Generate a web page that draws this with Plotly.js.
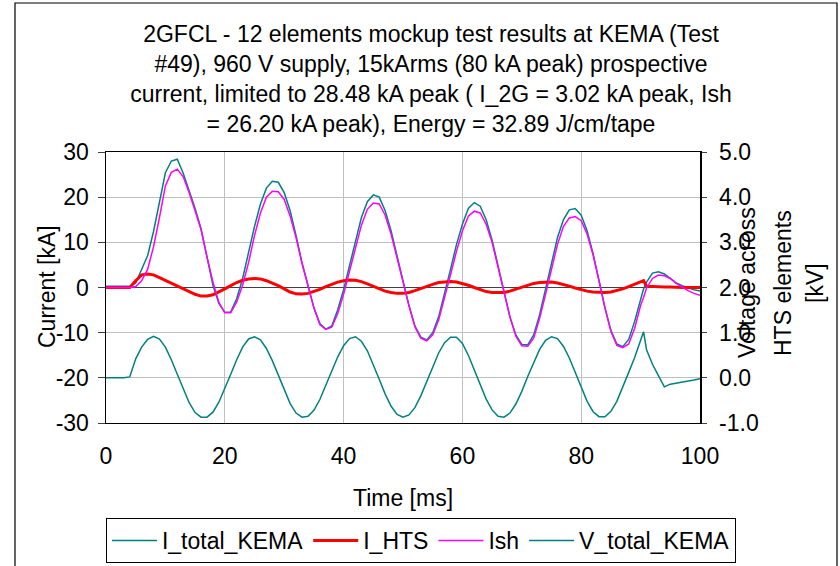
<!DOCTYPE html>
<html>
<head>
<meta charset="utf-8">
<script src="https://cdn.plot.ly/plotly-3.0.1.min.js"></script>
<style>
  html, body { margin: 0; padding: 0; background: #fff; }
  #chart { width: 840px; height: 566px; }
</style>
</head>
<body>
<div id="chart"></div>
<script>
// ---- data ----
var timeMs = [0,1,2,3,4,5,6,7,8,9,10,11,12,13,14,15,16,17,18,19,20,21,22,23,24,25,26,27,28,29,30,31,32,33,34,35,36,37,38,39,40,41,42,43,44,45,46,47,48,49,50,51,52,53,54,55,56,57,58,59,60,61,62,63,64,65,66,67,68,69,70,71,72,73,74,75,76,77,78,79,80,81,82,83,84,85,86,87,88,89,90,90.5,91,92,93,94,95,96,97,98,99,100];

var iTotalKEMA = [0.3,0.3,0.3,0.3,0.3, 1.0,4.0,7.0,12.4,19.2, 25.4,28.0,28.4,25.3,21.6, 17.5,13.0,6.5,0.5,-3.5,
  -5.5,-5.4,-2.5,2.0,8.0, 13.5,18.5,22.0,23.5,23.3, 21.0,17.0,11.5,5.5,0.5, -4.5,-8.0,-9.2,-8.5,-5.0,
  -0.5,5.0,10.5,15.5,19.0, 20.5,20.0,17.0,12.5,7.0, 1.5,-4.0,-8.5,-11.0,-11.6, -10.0,-6.5,-1.5,4.0,9.5,
  14.0,17.5,18.8,18.0,15.0, 10.5,5.0,-1.0,-6.5,-10.5, -12.6,-12.7,-10.5,-6.0,-0.5, 5.5,11.0,15.0,17.2,17.5,
  16.0,12.5,7.5,1.5,-4.5, -9.5,-12.5,-13.1,-11.5,-7.5, -2.5,-0.3, 1.2,3.2,3.5,3.0,2.0, 1.0,0.4,-0.1,-0.5,-0.8];

var iHTS = [0.0,0.0,0.0,0.0,0.0, 1.5,2.8,3.0,2.8,2.2, 1.6,1.0,0.4,-0.2,-0.9, -1.5,-1.9,-1.9,-1.6,-1.0,
  -0.3,0.4,1.1,1.6,1.9, 2.0,1.9,1.5,1.0,0.4, -0.3,-1.0,-1.4,-1.45,-1.3, -0.9,-0.4,0.2,0.7,1.2,
  1.5,1.65,1.6,1.3,0.8, 0.3,-0.3,-0.8,-1.1,-1.3, -1.3,-1.1,-0.7,-0.2,0.3, 0.7,1.1,1.3,1.35,1.2,
  0.9,0.5,0.0,-0.5,-0.9, -1.1,-1.15,-1.1,-0.8,-0.4, 0.1,0.5,0.9,1.1,1.2, 1.2,1.0,0.7,0.3,-0.1,
  -0.5,-0.8,-1.0,-1.1,-1.1, -1.0,-0.7,-0.3,0.2,0.7, 1.1,1.5, 0.3,0.2,0.2,0.1,0.1, 0.0,0.0,0.0,0.0,0.0];

var iSh = [0.0,0.0,0.0,0.0,0.0, 0.2,1.5,4.0,9.0,15.5, 22.5,25.5,26.2,24.5,21.0, 17.0,12.8,6.8,1.2,-3.3,
  -5.6,-5.6,-3.2,0.5,5.5, 11.5,16.5,20.0,21.3,21.2, 19.5,15.8,11.0,5.3,0.3, -4.5,-8.2,-9.3,-8.8,-5.8,
  -1.5,3.5,9.0,13.8,17.3, 18.7,18.5,16.0,11.8,6.5, 1.2,-4.0,-8.7,-11.2,-11.8, -10.5,-7.2,-2.5,2.8,8.0,
  12.5,15.8,16.9,16.5,14.0, 10.0,4.8,-1.0,-6.5,-10.8, -12.9,-13.0,-11.2,-6.8,-1.5, 4.0,9.5,13.5,15.4,15.7,
  14.8,11.8,7.2,1.5,-4.5, -9.7,-12.8,-13.3,-12.5,-9.0, -4.0,-2.2, -0.1,2.0,2.75,2.6,2.0, 0.9,0.0,-0.7,-1.3,-1.7];

var vTotalKEMA = [0.0,0.0,0.0,0.0,0.02, 0.42,0.68,0.85,0.92,0.86, 0.68,0.40,0.08,-0.25,-0.55, -0.77,-0.87,-0.87,-0.76,-0.54,
  -0.25,0.08,0.40,0.68,0.86, 0.91,0.84,0.65,0.38,0.05, -0.28,-0.57,-0.78,-0.87,-0.85, -0.72,-0.48,-0.18,0.15,0.46,
  0.71,0.87,0.91,0.81,0.60, 0.30,-0.03,-0.36,-0.63,-0.81, -0.87,-0.82,-0.66,-0.40,-0.08, 0.25,0.55,0.78,0.90,0.90,
  0.76,0.50,0.18,-0.16,-0.47, -0.71,-0.85,-0.87,-0.78,-0.58, -0.30,0.03,0.35,0.63,0.83, 0.91,0.87,0.70,0.44,0.12,
  -0.22,-0.52,-0.75,-0.86,-0.86, -0.74,-0.52,-0.22,0.12,0.45, 0.80,1.02, 0.62,0.30,0.05,-0.20,-0.14, -0.12,-0.09,-0.07,-0.05,-0.02];

var seriesNames = ['I_total_KEMA', 'I_HTS', 'Ish', 'V_total_KEMA'];
var xTickVals = [0, 20, 40, 60, 80, 100];
var xTickText = ['0', '20', '40', '60', '80', '100'];
var yTickVals = [-30, -20, -10, 0, 10, 20, 30];
var yTickText = ['-30', '-20', '-10', '0', '10', '20', '30'];
var y2TickVals = [-1, 0, 1, 2, 3, 4, 5];
var y2TickText = ['-1.0', '0.0', '1.0', '2.0', '3.0', '4.0', '5.0'];

var titleText = '2GFCL - 12 elements mockup test results at KEMA (Test<br>' +
  '#49), 960 V supply, 15kArms (80 kA peak) prospective<br>' +
  'current, limited to 28.48 kA peak ( I_2G = 3.02 kA peak, Ish<br>' +
  '= 26.20 kA peak), Energy = 32.89 J/cm/tape';
var xTitle = 'Time [ms]';
var yTitle = 'Current [kA]';
var y2TitleLines = ['Voltage across', 'HTS elements', '[kV]'];

// ---- layout geometry ----
var W = 840, H = 566;
var L = 106, R = 700, T = 152, B = 423;
function px(x) { return (x - L) / (R - L); }
function py(y) { return (B - y) / (B - T); }

var FONT = 'Liberation Sans, Arial, sans-serif';
var FS = 23;
var teal = '#008080';

var traces = [
  { x: timeMs, y: iTotalKEMA, name: seriesNames[0], type: 'scatter', mode: 'lines',
    line: { color: teal, width: 1.5 } },
  { x: timeMs, y: iHTS, name: seriesNames[1], type: 'scatter', mode: 'lines',
    line: { color: '#ff0000', width: 3 } },
  { x: timeMs, y: iSh, name: seriesNames[2], type: 'scatter', mode: 'lines',
    line: { color: '#ff00ff', width: 1.5 } },
  { x: timeMs, y: vTotalKEMA, name: seriesNames[3], type: 'scatter', mode: 'lines', yaxis: 'y2',
    line: { color: teal, width: 1.5 } }
];

var annotations = [{
  text: yTitle, xref: 'paper', yref: 'paper',
  x: px(47), y: py(287), xanchor: 'center', yanchor: 'middle',
  textangle: -90, showarrow: false,
  font: { family: FONT, size: FS, color: '#000' }
}];
var y2x = [747, 783, 815];
for (var i = 0; i < y2TitleLines.length; i++) {
  annotations.push({
    text: y2TitleLines[i], xref: 'paper', yref: 'paper',
    x: px(y2x[i]), y: py(283), xanchor: 'center', yanchor: 'middle',
    textangle: -90, showarrow: false,
    font: { family: FONT, size: FS, color: '#000' }
  });
}

var layout = {
  width: W, height: H,
  paper_bgcolor: '#fff', plot_bgcolor: '#fff',
  margin: { l: L, r: W - R, t: T, b: H - B, pad: 0, autoexpand: false },
  font: { family: FONT, size: FS, color: '#000' },
  title: {
    text: titleText, x: 431 / W, xref: 'container', xanchor: 'center',
    y: 1 - 42 / H, yref: 'container', yanchor: 'top',
    font: { family: FONT, size: FS, color: '#000' }
  },
  showlegend: true,
  legend: {
    orientation: 'h', xref: 'paper', yref: 'paper',
    x: -0.0001, xanchor: 'left', y: py(518), yanchor: 'top',
    bordercolor: '#000', borderwidth: 1, bgcolor: '#fff',
    font: { family: FONT, size: FS, color: '#000' },
    traceorder: 'normal', itemwidth: 45
  },
  xaxis: {
    range: [0, 100], tickvals: xTickVals, ticktext: xTickText,
    showgrid: true, gridcolor: '#c0c0c0', gridwidth: 1,
    showline: true, linecolor: '#000', linewidth: 1, mirror: true,
    ticks: '', zeroline: false, ticklabelstandoff: 12,
    title: { text: xTitle, standoff: 22, font: { family: FONT, size: FS } }
  },
  yaxis: {
    range: [-30, 30], tickvals: yTickVals, ticktext: yTickText,
    showgrid: true, gridcolor: '#c0c0c0', gridwidth: 1,
    showline: true, linecolor: '#000', linewidth: 1.5,
    ticks: 'outside', ticklen: 7, tickcolor: '#404040', tickwidth: 1,
    zeroline: true, zerolinecolor: '#404040', zerolinewidth: 1.5,
    ticklabelstandoff: 4
  },
  yaxis2: {
    overlaying: 'y', side: 'right', anchor: 'x',
    range: [-1, 5], tickvals: y2TickVals, ticktext: y2TickText,
    showgrid: false, zeroline: false,
    showline: true, linecolor: '#000', linewidth: 1.5,
    ticks: 'outside', ticklen: 5, tickcolor: '#404040',
    ticklabelstandoff: 8
  },
  annotations: annotations,
  shapes: [
    { type: 'rect', xref: 'paper', yref: 'paper',
      x0: px(15), x1: px(837), y0: py(575), y1: py(3),
      line: { color: '#000', width: 1.2 }, fillcolor: 'rgba(0,0,0,0)', layer: 'below' }
  ]
};

Plotly.newPlot('chart', traces, layout, { displayModeBar: false, staticPlot: true });
</script>
</body>
</html>
